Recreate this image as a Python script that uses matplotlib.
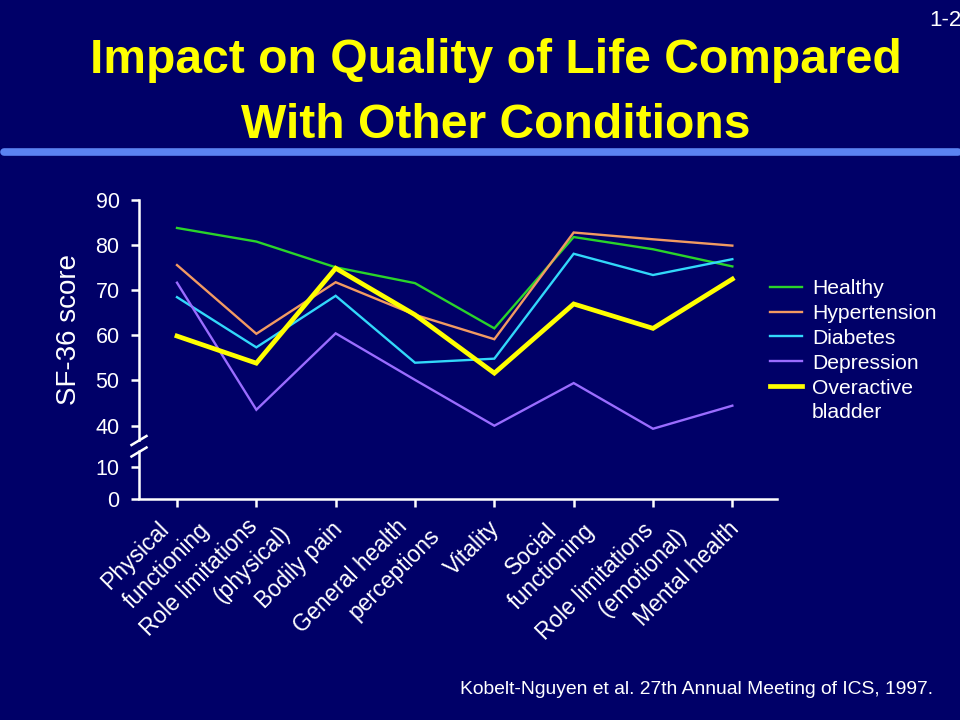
import numpy as np
import matplotlib
matplotlib.use("Agg")
import matplotlib.pyplot as plt
from matplotlib import font_manager
from matplotlib.lines import Line2D
from matplotlib.transforms import ScaledTranslation

# ---------------- data ----------------
categories = ["Physical\nfunctioning", "Role limitations\n(physical)", "Bodily pain",
              "General health\nperceptions", "Vitality", "Social\nfunctioning",
              "Role limitations\n(emotional)", "Mental health"]
healthy      = [83.7, 80.7, 75.0, 71.5, 61.5, 81.7, 79.0, 75.2]
hypertension = [75.5, 60.3, 71.7, 64.5, 59.1, 82.7, 81.2, 79.8]
diabetes     = [68.4, 57.3, 68.7, 53.9, 54.8, 78.0, 73.3, 76.8]
depression   = [71.6, 43.5, 60.4, 50.1, 39.9, 49.4, 37.7, 44.4]
overactive   = [59.8, 53.8, 74.8, 64.5, 51.6, 66.9, 61.5, 72.4]
series_names = ["Healthy", "Hypertension", "Diabetes", "Depression", "Overactive"]
yticks = [0, 10, 40, 50, 60, 70, 80, 90]
ytick_labels = ["0", "10", "40", "50", "60", "70", "80", "90"]

# ---------------- style ----------------
names = {f.name for f in font_manager.fontManager.ttflist}
base = "Liberation Sans" if "Liberation Sans" in names else "DejaVu Sans"
plt.rcParams["font.family"] = [base, "DejaVu Sans"]

BG = "#000068"
W = 960; H = 720
fig = plt.figure(figsize=(9.6, 7.2), dpi=100, facecolor=BG)

def fx(px): return px / W
def fy(py): return 1 - py / H

# title
fig.text(fx(496), fy(73), "Impact on Quality of Life Compared", color="#ffff00",
         fontsize=34.6, fontweight="bold", ha="center", va="baseline")
fig.text(fx(496), fy(138), "With Other Conditions", color="#ffff00",
         fontsize=34.6, fontweight="bold", ha="center", va="baseline")
fig.text(fx(929), fy(20), "1-2", color="white", fontsize=16, ha="left", va="center")
# separator bar
fig.add_artist(Line2D([fx(4), fx(958)], [fy(152), fy(152)], color="#5b83f2",
                      linewidth=5.5, solid_capstyle="round"))

# broken y scale
def fwd(v):
    v = np.asarray(v, dtype=float)
    return np.where(v < 10, v * 3.2,
                    np.where(v < 40, 32 + (v - 10) * 41.6 / 30, 73.6 + (v - 40) * 4.532))

def inv(p):
    p = np.asarray(p, dtype=float)
    return np.where(p < 32, p / 3.2,
                    np.where(p < 73.6, 10 + (p - 32) * 30 / 41.6, 40 + (p - 73.6) / 4.532))

ax = fig.add_axes([fx(139), fy(499), (777 - 139) / W, (499 - 199.5) / H])
ax.set_facecolor(BG)
ax.set_yscale("function", functions=(fwd, inv))
ax.set_ylim(0, 90)
x = np.arange(len(categories))
ax.set_xlim(-0.479, 7.563)

colors = ["#2ad42a", "#f29a62", "#32d8fa", "#9a6cff", "#ffff00"]
widths = [1.7, 1.7, 1.7, 1.7, 3.4]
for vals, name, c, lw in zip([healthy, hypertension, diabetes, depression, overactive],
                             series_names, colors, widths):
    ax.plot(x, vals, color=c, linewidth=lw, label=name, solid_joinstyle="miter")

for s in ["top", "right"]:
    ax.spines[s].set_visible(False)
for s in ["bottom", "left"]:
    ax.spines[s].set_color("white")
    ax.spines[s].set_linewidth(1.8)
ax.spines["left"].set_bounds(29.5, 90)
ax.vlines(ax.get_xlim()[0], 0, 22, color="white", linewidth=1.8, clip_on=False)
# break marks
for y0, y1 in [(445, 436), (456.5, 447.5)]:
    fig.add_artist(Line2D([fx(131.5), fx(146.5)], [fy(y0), fy(y1)], color="white", linewidth=1.8))

ax.set_yticks(yticks)
ax.set_yticklabels(ytick_labels)
ax.minorticks_off()
ax.tick_params(axis="y", colors="white", length=6, width=1.8, pad=8, labelsize=15.5)
ax.set_xticks(x)
ax.set_xticklabels([])
ax.tick_params(axis="x", colors="white", length=6, width=1.8)

# category labels: baseline start of each line, pixel offsets from tick (dx, dy down)
line_offsets = [[(-72.4, 87), (-50, 106)],
                [(-112.4, 134.3), (-39, 100)],
                [(-76.7, 106)],
                [(-117.6, 131), (-62.6, 117.7)],
                [(-46, 73.3)],
                [(-65, 72.7), (-61.6, 107.7)],
                [(-112.7, 137.7), (-51, 114.3)],
                [(-94, 124.3)]]
shift_x, shift_y = 5, 4
xtr = ax.get_xaxis_transform()
for xi, cat, offs in zip(x, categories, line_offsets):
    for line, (dx, dy) in zip(cat.split("\n"), offs):
        tr = xtr + ScaledTranslation((dx + shift_x) / 100, -(dy + shift_y) / 100,
                                     fig.dpi_scale_trans)
        ax.text(xi, 0, line, transform=tr, rotation=45, rotation_mode="anchor",
                ha="left", va="baseline", color="white", fontsize=16.5, clip_on=False)

ax.set_ylabel("SF-36 score", color="white", fontsize=20)
ax.yaxis.set_label_coords(-0.089, 0.565)

leg = ax.legend(loc="upper left", bbox_to_anchor=(fx(770), fy(279)),
                bbox_transform=fig.transFigure, frameon=False, fontsize=15.2,
                handlelength=1.52, handletextpad=0.47, labelspacing=0.28,
                borderpad=0, borderaxespad=0)
for t in leg.get_texts():
    t.set_color("white")
fig.text(fx(812), fy(412), "bladder", color="white", fontsize=15.2, ha="left", va="center")

fig.text(fx(460), fy(690), "Kobelt-Nguyen et al. 27th Annual Meeting of ICS, 1997.",
         color="white", fontsize=13.9, ha="left", va="center")

fig.savefig("out.png", dpi=100, facecolor=BG)
